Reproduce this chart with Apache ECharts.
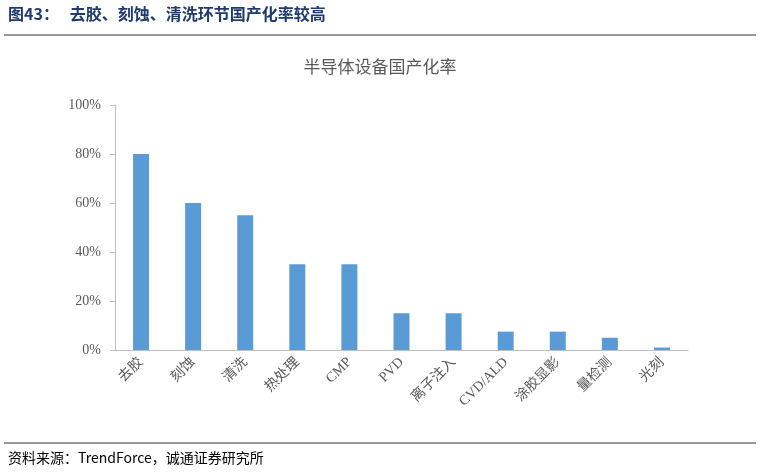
<!DOCTYPE html>
<html><head><meta charset="utf-8">
<script src="https://cdn.jsdelivr.net/npm/echarts@6/dist/echarts.min.js"></script>
<style>
html,body{margin:0;padding:0;background:#fff;}
#c{width:760px;height:473px;}
</style></head>
<body><div id="c"></div>
<script>
const categories = ["去胶", "刻蚀", "清洗", "热处理", "CMP", "PVD", "离子注入", "CVD/ALD", "涂胶显影", "量检测", "光刻"];
const localRate = [80, 60, 55, 35, 35, 15, 15, 7.5, 7.5, 5, 1];
const yTicks = [0, 20, 40, 60, 80, 100];

const chart = echarts.init(document.getElementById("c"));
chart.setOption({
  animation: false,
  graphic: [
    { type: "text", left: 8, top: 6, style: { text: "图43：   去胶、刻蚀、清洗环节国产化率较高", font: "bold 16px 'Noto Sans CJK SC', serif", fill: "#1f3a6e" } },
    { type: "line", shape: { x1: 4, y1: 35, x2: 756, y2: 35 }, style: { stroke: "#333", lineWidth: 1 } },
    { type: "text", left: "center", top: 58, style: { text: "半导体设备国产化率", font: "17px 'Noto Sans CJK SC', sans-serif", fill: "#595959" } },
    { type: "line", shape: { x1: 4, y1: 443, x2: 756, y2: 443 }, style: { stroke: "#333", lineWidth: 1 } },
    { type: "text", left: 8, top: 451, style: { text: "资料来源：TrendForce，诚通证券研究所", font: "14px 'Noto Sans CJK SC', 'Liberation Serif', serif", fill: "#000" } }
  ],
  grid: { left: 115, right: 72, top: 105, bottom: 123 },
  xAxis: {
    type: "category",
    data: categories,
    axisLine: { lineStyle: { color: "#bfbfbf" } },
    axisTick: { show: false },
    axisLabel: { rotate: 45, color: "#595959", fontSize: 14, fontFamily: "'Liberation Serif', 'Noto Sans CJK SC', serif", interval: 0, margin: 10 }
  },
  yAxis: {
    type: "value",
    min: yTicks[0], max: yTicks[yTicks.length - 1], interval: 20,
    splitLine: { show: false },
    axisLine: { show: true, lineStyle: { color: "#bfbfbf" } },
    axisTick: { show: true, lineStyle: { color: "#bfbfbf" } },
    axisLabel: { formatter: "{value}%", color: "#595959", fontSize: 14, fontFamily: "'Liberation Serif', serif", margin: 14 }
  },
  series: [{
    type: "bar",
    data: localRate,
    barWidth: 16,
    itemStyle: { color: "#5b9bd5" }
  }]
});
</script></body></html>
